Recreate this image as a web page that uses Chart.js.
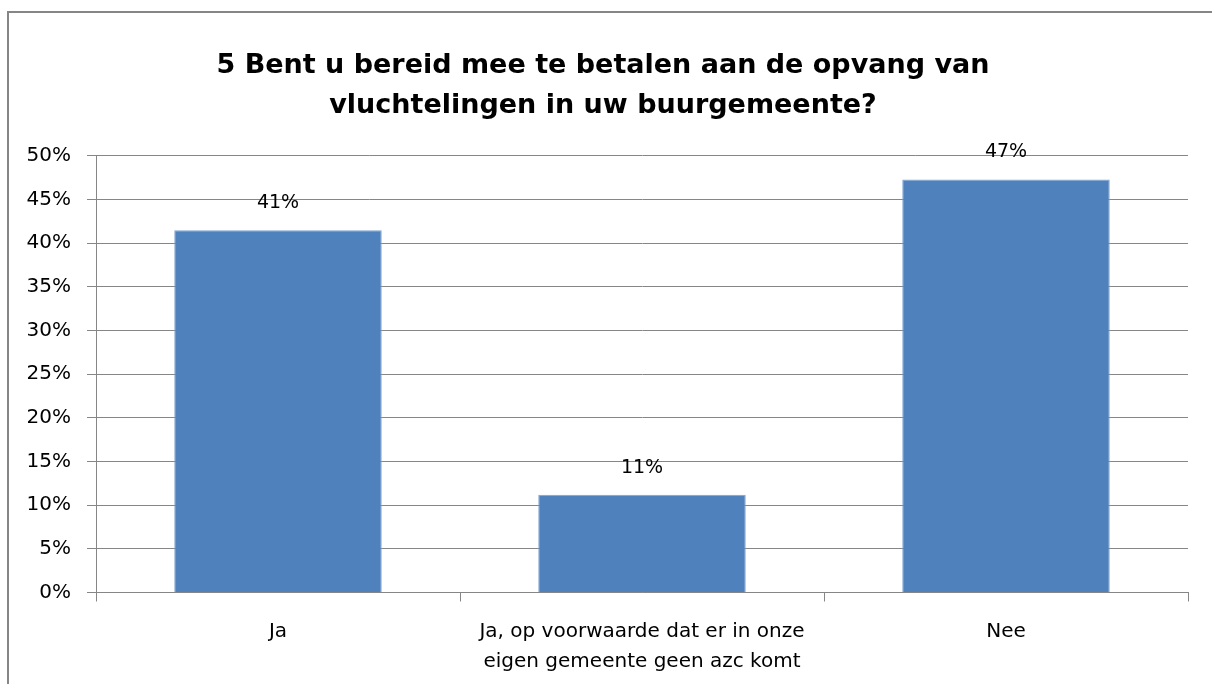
<!DOCTYPE html>
<html>
<head>
<meta charset="utf-8">
<script src="https://cdn.jsdelivr.net/npm/chart.js@4"></script>
<style>
  html, body { margin: 0; padding: 0; background: #fff; }
  #wrap { width: 1212px; height: 684px; position: relative; }
</style>
</head>
<body>
<div id="wrap"><canvas id="chart" width="1212" height="684"></canvas></div>
<script>
// chart data
var titleLines = ['5 Bent u bereid mee te betalen aan de opvang van', 'vluchtelingen in uw buurgemeente?'];
var categories = [
	['Ja'],
	['Ja, op voorwaarde dat er in onze', 'eigen gemeente geen azc komt'],
	['Nee']
];
var values = [41.5, 11.2, 47.3];
var valueLabels = ['41%', '11%', '47%'];

var FONT = '"DejaVu Sans", Verdana, sans-serif';

// outer frame of the chart object
var framePlugin = {
	id: 'frame',
	beforeDraw: function(chart) {
		var ctx = chart.ctx;
		ctx.save();
		ctx.fillStyle = '#fff';
		ctx.fillRect(0, 0, chart.width, chart.height);
		ctx.strokeStyle = '#868686';
		ctx.lineWidth = 2;
		ctx.strokeRect(8, 12, chart.width + 20, chart.height + 20);
		ctx.restore();
	}
};

// value labels above the bars
var valueLabelPlugin = {
	id: 'valueLabels',
	afterDatasetsDraw: function(chart) {
		var ctx = chart.ctx;
		var meta = chart.getDatasetMeta(0);
		ctx.save();
		ctx.font = '19px ' + FONT;
		ctx.fillStyle = '#000';
		ctx.textAlign = 'center';
		ctx.textBaseline = 'middle';
		meta.data.forEach(function(bar, i) {
			ctx.fillText(valueLabels[i], bar.x, bar.y - 27);
		});
		ctx.restore();
	}
};

new Chart(document.getElementById('chart'), {
	type: 'bar',
	data: {
		labels: categories,
		datasets: [{
			data: values,
			backgroundColor: '#4F81BD',
			borderColor: '#7fa3d0',
			borderWidth: 1,
			barPercentage: 0.57,
			categoryPercentage: 1
		}]
	},
	options: {
		responsive: false,
		animation: false,
		devicePixelRatio: 1,
		layout: {
			padding: { top: 0, left: 18, right: 24, bottom: 0 }
		},
		plugins: {
			legend: { display: false },
			tooltip: { enabled: false },
			title: {
				display: true,
				text: titleLines,
				color: '#000',
				font: { family: FONT, size: 27, weight: 'bold', lineHeight: 1.48 },
				padding: { top: 46, bottom: 30 }
			}
		},
		scales: {
			x: {
				grid: {
					drawOnChartArea: false,
					drawTicks: true,
					tickLength: 9,
					color: '#868686'
				},
				border: { display: true, color: '#868686' },
				ticks: {
					color: '#000',
					font: { family: FONT, size: 20, lineHeight: 1.5 },
					padding: 15,
					maxRotation: 0,
					autoSkip: false
				},
				afterFit: function(scale) { scale.height = 91.5; }
			},
			y: {
				min: 0,
				max: 50,
				grid: {
					color: '#868686',
					tickLength: 9
				},
				border: { display: true, color: '#868686' },
				ticks: {
					stepSize: 5,
					color: '#000',
					font: { family: FONT, size: 20 },
					padding: 16,
					callback: function(v) { return v + '%'; }
				},
				afterFit: function(scale) { scale.width = 78; }
			}
		}
	},
	plugins: [framePlugin, valueLabelPlugin]
});
</script>
</body>
</html>
